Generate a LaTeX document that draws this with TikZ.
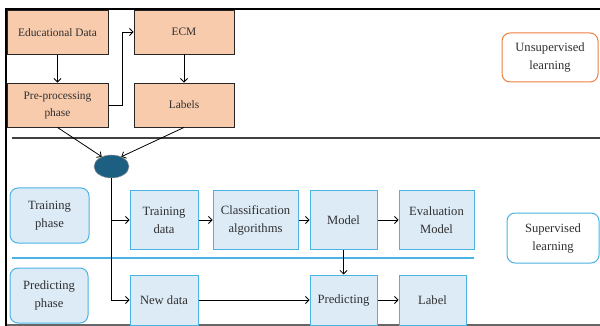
\documentclass[tikz,border=0pt]{standalone}
\usepackage{fontspec}
\setmainfont{Liberation Serif}
\usetikzlibrary{arrows.meta,shapes.geometric}
\definecolor{peach}{HTML}{F8CBAD}
\definecolor{skyfill}{HTML}{DDEBF7}
\definecolor{skyline}{HTML}{4BB3E3}
\definecolor{tealdot}{HTML}{1D5F80}
\definecolor{orangeline}{HTML}{EE8040}
\definecolor{inktext}{HTML}{2F2F2F}
\tikzset{
  txt/.style={font=\fontsize{12.6}{18}\selectfont, text=inktext, align=center, inner sep=0pt},
  smalltxt/.style={font=\fontsize{11.4}{17}\selectfont},
  unsupbox/.style={txt, smalltxt, draw=black!85, fill=peach, line width=0.9pt, minimum width=101pt, minimum height=44pt},
  supbox/.style={txt, draw=skyline, fill=skyfill, line width=1pt, minimum height=58pt},
  phasebox/.style={txt, draw=skyline, fill=skyfill, line width=1pt, rounded corners=8pt, minimum width=79pt, minimum height=55pt},
  tagbox/.style={txt, fill=white, line width=1pt, rounded corners=8pt},
  arr/.style={-{Straight Barb[length=3.5pt,width=7pt]}, line width=0.8pt, black}
}
\begin{document}
\begin{tikzpicture}[x=1pt,y=-1pt]
\useasboundingbox (0,0) rectangle (600,326);
\fill[white] (0,0) rectangle (600,326);

% frame and section dividers
\draw[line width=1.1pt, black!60] (6,325) -- (600,325);
\draw[line width=2pt, black] (5,9) -- (600,9);
\draw[line width=2pt, black] (6,9) -- (6,326);
\draw[line width=1.2pt, black!75] (12,138) -- (600,138);
\draw[line width=1.6pt, skyline] (12,258) -- (474,258);

% unsupervised stage
\node[unsupbox] (edu) at (57.5,32.5) {Educational Data};
\node[unsupbox] (pre) at (57.5,105) {Pre-processing\\phase};
\node[unsupbox, minimum width=100pt] (ecm) at (184,32) {ECM};
\node[unsupbox, minimum width=100pt] (lab) at (184,105) {Labels};
\node[tagbox, draw=orangeline, minimum width=96pt, minimum height=49pt] (unsup) at (550,57.5) {Unsupervised\\learning};

\node[ellipse, draw=black!40, fill=tealdot, line width=0.5pt, minimum width=35pt, minimum height=23pt, inner sep=0pt] (dot) at (111.5,166.5) {};

\draw[arr] (edu.south) -- (pre.north);
\draw[arr] (ecm.south) -- (lab.north);
\draw[arr] (pre.east) -- ++(14,0) |- (ecm.west);
\draw[arr] (pre.south) -- (dot.135);
\draw[arr] (lab.south) -- (dot.45);

% supervised stage
\node[phasebox] (trainph) at (49.5,215.5) {Training\\phase};
\node[phasebox, minimum width=78pt] (predph) at (49,295.5) {Predicting\\phase};

\node[supbox, minimum width=68pt] (tdata) at (164,220) {Training\\data};
\node[supbox, minimum width=85pt] (algo) at (255.5,220) {Classification\\algorithms};
\node[supbox, minimum width=67pt] (model) at (343.5,220) {Model};
\node[supbox, minimum width=75pt] (eval) at (436.5,220) {Evaluation\\Model};

\node[supbox, minimum width=68pt, minimum height=50pt] (newd) at (164,300) {New data};
\node[supbox, minimum width=67pt, minimum height=50pt] (predict) at (343.5,300) {Predicting};
\node[supbox, minimum width=67pt, minimum height=50pt] (label) at (432.5,300) {Label};

\node[tagbox, draw=skyline, minimum width=92pt, minimum height=50pt] (sup) at (553,238) {Supervised\\learning};

\coordinate (fork) at (dot.south |- tdata.west);
\draw[arr] (dot.south) |- (newd.west);
\draw[arr] (fork) -- (tdata.west);
\draw[arr] (tdata.east) -- (algo.west);
\draw[arr] (algo.east) -- (model.west);
\draw[arr] (model.east) -- (eval.west);
\draw[arr] (model.south) -- (predict.north);
\draw[arr] (newd.east) -- (predict.west);
\draw[arr] (predict.east) -- (label.west);
\end{tikzpicture}
\end{document}
